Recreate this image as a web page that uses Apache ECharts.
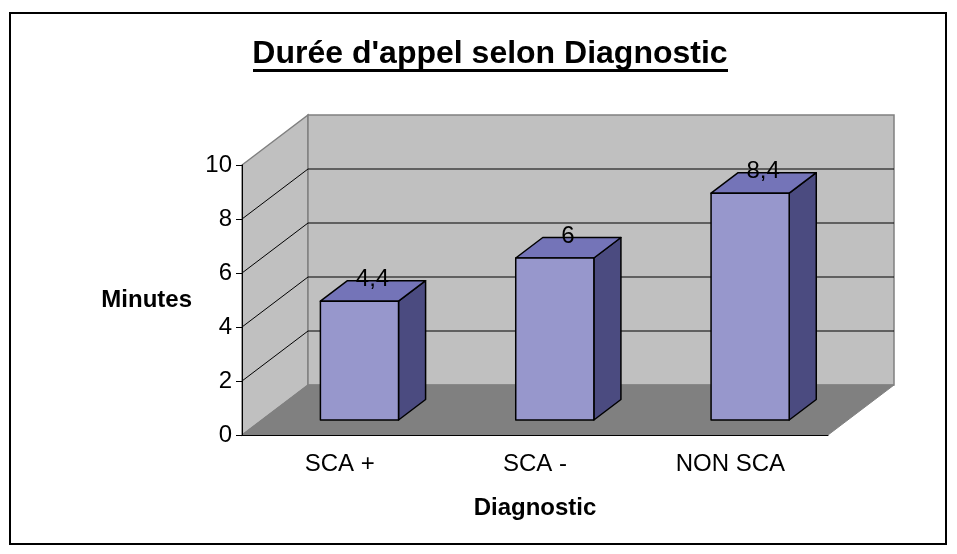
<!DOCTYPE html>
<html>
<head>
<meta charset="utf-8">
<script src="https://cdn.jsdelivr.net/npm/echarts@6/dist/echarts.min.js"></script>
<style>
  html, body { margin: 0; padding: 0; background: #fff; }
  #chart { width: 957px; height: 554px; }
</style>
</head>
<body>
<div id="chart"></div>
<script>
// donnees du graphique
var categories = ['SCA +', 'SCA -', 'NON SCA'];
var durees = [4.4, 6, 8.4];
var yTicks = [0, 2, 4, 6, 8, 10];

var FONT = 'Liberation Sans, Arial, sans-serif';
// profondeur de la vue 3D (pixels)
var DX = 66, DY = -50;
var F0 = 0.3, F1 = 0.71; // position des barres dans la profondeur

var myChart = echarts.init(document.getElementById('chart'));

function renderWalls(params, api) {
    var cs = params.coordSys;
    var x0 = cs.x, x1 = cs.x + cs.width;
    var yBot = api.coord([0, yTicks[0]])[1];
    var yTop = api.coord([0, yTicks[yTicks.length - 1]])[1];
    var children = [];
    // mur lateral
    children.push({
        type: 'polygon',
        shape: { points: [[x0, yBot], [x0, yTop], [x0 + DX, yTop + DY], [x0 + DX, yBot + DY]] },
        style: { fill: '#c0c0c0', stroke: '#808080', lineWidth: 1.5 }
    });
    // mur du fond
    children.push({
        type: 'rect',
        shape: { x: x0 + DX, y: yTop + DY, width: x1 - x0, height: yBot - yTop },
        style: { fill: '#c0c0c0', stroke: '#808080', lineWidth: 1.5 }
    });
    // sol
    children.push({
        type: 'polygon',
        shape: { points: [[x0, yBot], [x1, yBot], [x1 + DX, yBot + DY], [x0 + DX, yBot + DY]] },
        style: { fill: '#808080', stroke: '#808080', lineWidth: 1 }
    });
    // quadrillage
    for (var i = 1; i < yTicks.length - 1; i++) {
        var y = api.coord([0, yTicks[i]])[1];
        children.push({
            type: 'polyline',
            shape: { points: [[x0, y], [x0 + DX, y + DY], [x1 + DX, y + DY]] },
            style: { stroke: '#000', lineWidth: 1, fill: null }
        });
    }
    return { type: 'group', children: children };
}

function renderBar(params, api) {
    var idx = api.value(0);
    var val = api.value(1);
    var p0 = api.coord([idx, 0]);
    var p1 = api.coord([idx, val]);
    var w = api.size([1, 0])[0] * 0.4;
    var xl = p0[0] - w / 2 + F0 * DX;
    var xr = p0[0] + w / 2 + F0 * DX;
    var yb = p0[1] + F0 * DY;
    var yt = p1[1] + F0 * DY;
    var ddx = (F1 - F0) * DX, ddy = (F1 - F0) * DY;
    var line = { stroke: '#000', lineWidth: 1.5, lineJoin: 'round' };
    return {
        type: 'group',
        children: [
            {
                type: 'polygon',
                shape: { points: [[xr, yt], [xr, yb], [xr + ddx, yb + ddy], [xr + ddx, yt + ddy]] },
                style: Object.assign({ fill: '#4b4b80' }, line)
            },
            {
                type: 'polygon',
                shape: { points: [[xl, yt], [xr, yt], [xr + ddx, yt + ddy], [xl + ddx, yt + ddy]] },
                style: Object.assign({ fill: '#7474b8' }, line)
            },
            {
                type: 'rect',
                shape: { x: xl, y: yt, width: xr - xl, height: yb - yt },
                style: Object.assign({ fill: '#9797cc' }, line)
            },
            {
                type: 'text',
                style: {
                    x: (xl + xr) / 2 + 13,
                    y: yt - 22,
                    text: String(val).replace('.', ','),
                    fill: '#000',
                    font: '24px ' + FONT,
                    align: 'center',
                    verticalAlign: 'middle'
                }
            }
        ]
    };
}

var option = {
    animation: false,
    backgroundColor: '#fff',
    textStyle: { fontFamily: FONT },
    graphic: [
        {
            type: 'rect',
            shape: { x: 10, y: 13, width: 936, height: 531 },
            style: { fill: null, stroke: '#000', lineWidth: 2 }
        },
        {
            type: 'text',
            x: 490,
            y: 54,
            style: {
                text: "Durée d'appel selon Diagnostic",
                font: 'bold 32px ' + FONT,
                fill: '#000',
                align: 'center',
                verticalAlign: 'middle'
            }
        },
        {
            type: 'rect',
            shape: { x: 253, y: 69, width: 475, height: 3 },
            style: { fill: '#000' }
        }
    ],
    grid: { left: 242, right: 129, top: 165, bottom: 119 },
    xAxis: {
        type: 'category',
        data: categories,
        name: 'Diagnostic',
        nameLocation: 'middle',
        nameGap: 61,
        nameTextStyle: { color: '#000', fontSize: 24, fontWeight: 'bold', fontFamily: FONT },
        axisLine: { lineStyle: { color: '#000', width: 1 } },
        axisTick: { length: 6, lineStyle: { color: '#000' } },
        axisLabel: { color: '#000', fontSize: 24, margin: 17, fontFamily: FONT },
        splitLine: { show: false },
        z: 5
    },
    yAxis: {
        type: 'value',
        min: yTicks[0],
        max: yTicks[yTicks.length - 1],
        interval: 2,
        name: 'Minutes',
        nameLocation: 'middle',
        nameRotate: 0,
        nameGap: 50,
        nameTextStyle: { color: '#000', fontSize: 24, fontWeight: 'bold', fontFamily: FONT },
        axisLine: { show: true, lineStyle: { color: '#000', width: 1 } },
        axisTick: { show: true, length: 6, lineStyle: { color: '#000' } },
        axisLabel: { color: '#000', fontSize: 24, margin: 10, fontFamily: FONT },
        splitLine: { show: false },
        z: 5
    },
    series: [
        {
            type: 'custom',
            renderItem: renderWalls,
            data: [[0, 0]],
            silent: true,
            z: 1
        },
        {
            type: 'custom',
            renderItem: renderBar,
            data: durees.map(function (v, i) { return [i, v]; }),
            z: 3
        }
    ]
};

myChart.setOption(option);
</script>
</body>
</html>
